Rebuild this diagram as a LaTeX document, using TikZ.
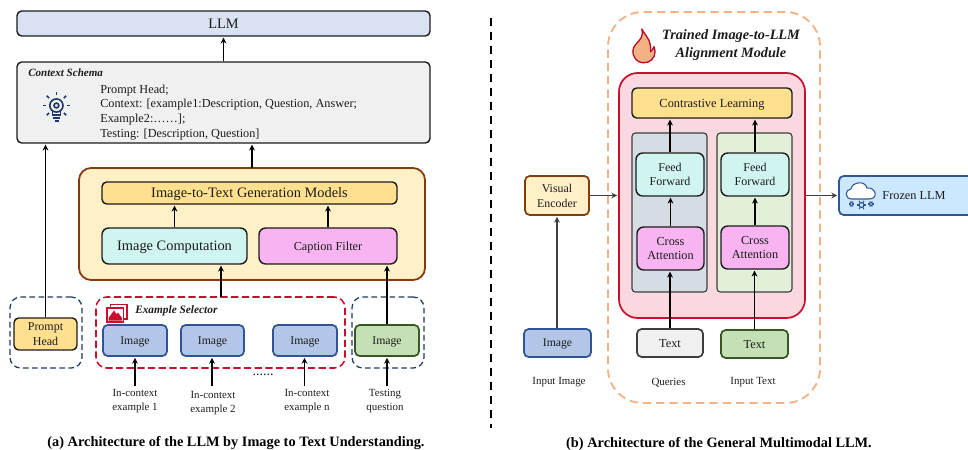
\documentclass[tikz,border=0pt]{standalone}
\usepackage{fontspec}
\setmainfont{Liberation Serif}
\usetikzlibrary{arrows.meta,calc}
\definecolor{inkc}{HTML}{1C1C1C}
\definecolor{navyc}{HTML}{1F3864}
\definecolor{brownc}{HTML}{843C0C}
\definecolor{redc}{HTML}{C8102E}
\definecolor{bluec}{HTML}{2F5597}
\definecolor{greenc}{HTML}{385723}
\definecolor{orangec}{HTML}{F4B183}
\definecolor{lavc}{HTML}{D9E2F3}
\definecolor{grayc}{HTML}{F0F0F0}
\definecolor{creamc}{HTML}{FFF0C8}
\definecolor{goldc}{HTML}{FFE08F}
\definecolor{cyanc}{HTML}{D0F4F0}
\definecolor{pinkc}{HTML}{F7B4F0}
\definecolor{imgc}{HTML}{B4C6E7}
\definecolor{leafc}{HTML}{C5E0B4}
\definecolor{rosec}{HTML}{F9D9DF}
\definecolor{slatec}{HTML}{D5DCE4}
\definecolor{mintc}{HTML}{E2F0D9}
\definecolor{skyc}{HTML}{CCE8FF}
\newcommand\bx[7]{\node[#6,minimum width={(#4-#2)*0.75pt},minimum height={(#5-#3)*0.75pt}] (#1) at ({(#2+#4)/2},{(#3+#5)/2}) {#7};}
\tikzset{
  base/.style={rectangle,inner sep=0pt,text=inkc,align=center,rounded corners=3.5pt,line width=1.05pt,draw=inkc,text depth=-0.8pt},
  lab/.style={inner sep=0pt,text=inkc,align=center,font=\fontsize{8.2}{10.5}\selectfont},
  arr/.style={-{Stealth[length=4.4pt,width=4.4pt]},line width=1.35pt,black,shorten >=0.7pt},
  arrg/.style={arr,color=inkc!85},
  dashn/.style={draw=navyc,line width=.95pt,dash pattern=on 4.2pt off 2.6pt,rounded corners=8pt,inner sep=0pt},
  imgb/.style={base,fill=imgc,draw=bluec,line width=1.3pt,font=\fontsize{8.8}{10.4}\selectfont},
  leafb/.style={base,fill=leafc,draw=greenc,line width=1.3pt,font=\fontsize{9}{10.4}\selectfont},
  cyb/.style={base,fill=cyanc,font=\fontsize{9}{10.9}\selectfont,rounded corners=5pt},
  pkb/.style={base,fill=pinkc,font=\fontsize{9.2}{11}\selectfont,rounded corners=5pt},
}
\begin{document}
\begin{tikzpicture}[x=0.75pt,y=-0.75pt]
\clip (0,0) rectangle (968,450);
\useasboundingbox (0,0) rectangle (968,450);
% ---------- left panel
\bx{llm}{17}{11}{430}{36}{base,fill=lavc,font=\fontsize{10.8}{13}\selectfont}{LLM}
\bx{ctx}{17}{62}{430}{143}{base,fill=grayc}{}
\node[inner sep=0pt,anchor=west,text=inkc,font=\fontsize{8.3}{10}\selectfont\bfseries\itshape] (ctxt) at (28,73) {Context Schema};
\node[inner sep=0pt,anchor=north west,text=inkc,align=left,font=\fontsize{9.2}{10.95}\selectfont] (ctxb) at (100,84.5) {Prompt Head;\\Context: [example1:Description, Question, Answer;\\Example2:……];\\Testing: [Description, Question]};
% bulb
\begin{scope}[navyc,line width=1.2pt]
\draw (56.4,105.5) circle (6.6);
\draw (56.4,105.5) circle (2.4);
\foreach \a in {0,-45,-90,-135,180,45,135}{\draw (56.4,105.5)++(\a:10.5) -- ++(\a:3.2);}
\draw (52.5,111) -- (52.5,115) -- (60.5,115) -- (60.5,111);
\draw (53,118) -- (60,118);
\draw (54.5,121) -- (58.5,121);
\end{scope}
\bx{yel}{79}{168}{425}{280}{base,fill=creamc,draw=brownc,line width=1.35pt,rounded corners=9pt}{}
\bx{gen}{102}{182}{397}{204}{base,fill=goldc,font=\fontsize{10.8}{13}\selectfont}{Image-to-Text Generation Models}
\bx{comp}{102}{228}{247}{264}{base,fill=cyanc,rounded corners=5pt,font=\fontsize{10.8}{13}\selectfont}{Image Computation}
\bx{capt}{259}{228}{397}{264}{base,fill=pinkc,rounded corners=5pt,font=\fontsize{9.2}{10.6}\selectfont}{Caption Filter}
\bx{dprompt}{10}{297}{82}{368}{dashn}{}
\bx{dsel}{96}{297}{345}{368}{dashn,draw=redc,line width=1.15pt,dash pattern=on 5.4pt off 2.6pt}{}
\bx{dtest}{352}{297}{424}{368}{dashn}{}
\bx{prompt}{14}{318}{77}{350}{base,fill=goldc,font=\fontsize{9}{11}\selectfont}{Prompt\\Head}
\bx{im1}{103}{325}{167}{356}{imgb}{Image}
\bx{im2}{181}{325}{244}{356}{imgb}{Image}
\bx{im3}{273}{325}{337}{356}{imgb}{Image}
\bx{im4}{355}{325}{419}{356}{leafb,font=\fontsize{8.8}{10.4}\selectfont}{Image}
\node[inner sep=0pt,anchor=west,text=inkc,font=\fontsize{8.5}{10}\selectfont\bfseries\itshape] (selt) at (135,311) {Example Selector};
% picture icon
\begin{scope}[redc]
\draw[line width=.8pt,fill=white] (110.5,304.5) rectangle (127,319);
\draw[line width=.9pt,fill=white] (107,308) rectangle (123.5,322);
\fill (108.5,320.5) -- (108.5,318) -- (114,310.5) -- (116.5,314) -- (118,312.5) -- (122,318) -- (122,320.5) -- cycle;
\end{scope}
\node[lab] (l1) at (135,401) {In-context\\example 1};
\node[lab] (l2) at (213,403) {In-context\\example 2};
\node[lab] (l3) at (307,401) {In-context\\example n};
\node[lab] (l4) at (385,401) {Testing\\question};
\node[lab,font=\fontsize{10.5}{12}\selectfont] (dots) at (263,374.5) {......};
\coordinate (a1) at (135,386);
\coordinate (a2) at (212,386);
\coordinate (a3) at (304.5,386);
\coordinate (a4) at (387,386);
\draw[arr] (ctx.north) -- (llm.south);
\draw[arr] (prompt.north) -- (prompt.north |- ctx.south);
\coordinate (y1) at (252,168);
\draw[arr] (y1) -- (y1 |- ctx.south);
\draw[arr] (comp.north) -- (comp.north |- gen.south);
\draw[arr] (capt.north) -- (capt.north |- gen.south);
\coordinate (s1) at (221,297);
\draw[arr] (s1) -- (s1 |- comp.south);
\draw[arr] (im4.north) -- (im4.north |- capt.south);
\draw[arr] (a1) -- (a1 |- im1.south);
\draw[arr] (a2) -- (a2 |- im2.south);
\draw[arr] (a3) -- (a3 |- im3.south);
\draw[arr] (a4) -- (a4 |- im4.south);
\node[inner sep=0pt,text=black,font=\fontsize{10.75}{12}\selectfont\bfseries] (capa) at (236,443.5) {(a) Architecture of the LLM by Image to Text Understanding.};
% ---------- divider
\coordinate (d1) at (491,18);
\coordinate (d2) at (491,428);
\draw[black,line width=1pt,dash pattern=on 6pt off 4.5pt] (d1) -- (d2);
% ---------- right panel
\bx{orange}{608}{12}{820}{403}{base,draw=orangec,line width=1.4pt,dash pattern=on 6.2pt off 3.8pt,rounded corners=26pt}{}
\bx{red}{619}{73}{805}{318}{base,fill=rosec,draw=redc,line width=1.3pt,rounded corners=14pt}{}
\bx{con}{632}{88}{792}{118}{base,fill=goldc,font=\fontsize{9.3}{10.6}\selectfont}{Contrastive Learning}
\bx{colg}{632}{133}{707}{292}{base,fill=slatec,line width=.85pt,rounded corners=2.5pt,draw=inkc!85}{}
\bx{colm}{717}{133}{792}{292}{base,fill=mintc,line width=.85pt,rounded corners=2.5pt,draw=inkc!85}{}
\bx{ff1}{636}{153}{704}{196}{cyb}{Feed\\Forward}
\bx{ff2}{721}{153}{789}{196}{cyb}{Feed\\Forward}
\bx{ca1}{637}{227}{704}{270}{pkb}{Cross\\Attention}
\bx{ca2}{721}{226}{789}{269}{pkb}{Cross\\Attention}
\bx{ve}{525}{176}{589}{215}{base,fill=creamc,draw=brownc,line width=1.3pt,font=\fontsize{8.9}{11.2}\selectfont}{Visual\\Encoder}
\bx{img}{524}{329}{591}{357}{imgb}{Image}
\bx{tq}{637}{329}{703}{357}{base,fill=grayc,line width=1.3pt,draw=inkc!85,font=\fontsize{9.2}{10.4}\selectfont}{Text}
\bx{tt}{721}{330}{788}{358}{leafb,font=\fontsize{9.2}{10.4}\selectfont}{Text}
\bx{frozen}{839}{176}{985}{215}{base,fill=skyc,draw=bluec,line width=1.3pt}{}
\node[inner sep=0pt,text=inkc,font=\fontsize{9.2}{10.6}\selectfont] (frozt) at (914,195.5) {Frozen LLM};
\node[lab] (li) at (559,382) {Input Image};
\node[lab] (lq) at (668.5,383) {Queries};
\node[lab] (lt) at (753,382) {Input Text};
\node[inner sep=0pt,text=inkc,align=center,font=\fontsize{10.7}{13.4}\selectfont\bfseries\itshape] (tr) at (731,45) {Trained Image-to-LLM\\Alignment Module};
% flame
\draw[redc!90!black,line width=1pt,fill=orangec,line join=round]
  (641.7,29) .. controls (644,36) and (640,40) .. (636,44) .. controls (632,48) and (632,54) .. (635,58)
  .. controls (637,61) and (640,63) .. (644,62.7) .. controls (650,63) and (655,58) .. (655,52)
  .. controls (655,50) and (654.5,48) .. (654,46.7) .. controls (653,49) and (652,51) .. (650.5,51.7)
  .. controls (651,46) and (650,41) .. (647,37) .. controls (645,34) and (643,31) .. (641.7,29) -- cycle;
% cloud
\begin{scope}[bluec,line width=.8pt]
\draw[fill=white] (852,199) .. controls (844,199) and (845,189) .. (851,189)
  .. controls (852,182) and (865,180) .. (867,188) .. controls (876,187) and (879,199) .. (869,199) -- cycle;
\foreach \p in {851.5,871}{\draw (\p,204) circle (1.8);\foreach \a in {0,60,...,300}{\draw (\p,204)++(\a:1.8) -- ++(\a:1);}}
\draw (861.5,205) circle (2.4);
\foreach \a in {0,60,...,300}{\draw (861.5,205)++(\a:2.4) -- ++(\a:2.4);}
\end{scope}
% arrows
\draw[arr] (ff1.north) -- (ff1.north |- con.south);
\draw[arr] (ff2.north) -- (ff2.north |- con.south);
\draw[arr] (ca1.north) -- (ca1.north |- ff1.south);
\draw[arr] (ca2.north) -- (ca2.north |- ff2.south);
\draw[arr] (tq.north) -- (tq.north |- ca1.south);
\draw[arr] (tt.north) -- (tt.north |- ca2.south);
\draw[arrg] (img.north -| ve.south) -- (ve.south);
\draw[arrg] (ve.east) -- (ve.east -| red.west);
\draw[arrg] (ve.east -| red.east) -- (ve.east -| frozen.west);
\node[inner sep=0pt,text=black,font=\fontsize{10.75}{12}\selectfont\bfseries] (capb) at (719,443.5) {(b) Architecture of the General Multimodal LLM.};
\end{tikzpicture}
\end{document}
